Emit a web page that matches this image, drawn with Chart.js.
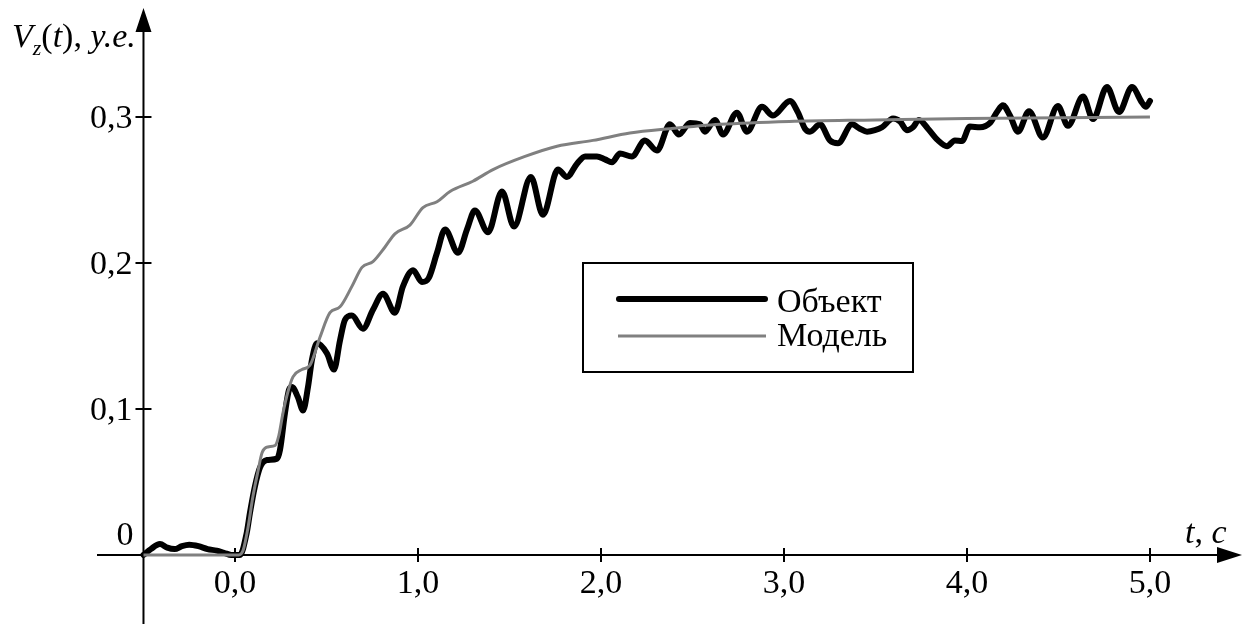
<!DOCTYPE html>
<html>
<head>
<meta charset="utf-8">
<script src="https://cdn.jsdelivr.net/npm/chart.js@4.4.0/dist/chart.umd.min.js"></script>
<style>
html, body { margin: 0; padding: 0; background: #fff; }
#wrap { width: 1244px; height: 625px; position: relative; }
</style>
</head>
<body>
<div id="wrap"><canvas id="chart"></canvas></div>
<script>
const objektT = [-0.5, -0.46, -0.41, -0.37, -0.33, -0.29, -0.25, -0.2, -0.15, -0.1, -0.06, -0.02, 0.027,
    0.064, 0.082, 0.109, 0.137, 0.175, 0.23, 0.246, 0.273, 0.295, 0.311, 0.344, 0.372, 0.399, 0.421, 0.448,
    0.503, 0.541, 0.574, 0.601, 0.639, 0.699, 0.754, 0.809, 0.874, 0.918, 0.973, 1.022, 1.06, 1.104, 1.148,
    1.219, 1.268, 1.311, 1.383, 1.459, 1.525, 1.617, 1.683, 1.765, 1.814, 1.869, 1.913, 1.978, 2.022, 2.06,
    2.104, 2.169, 2.24, 2.306, 2.377, 2.426, 2.486, 2.541, 2.568, 2.623, 2.667, 2.743, 2.798, 2.88, 2.94,
    3.033, 3.077, 3.115, 3.142, 3.197, 3.251, 3.295, 3.372, 3.415, 3.454, 3.497, 3.536, 3.596, 3.634, 3.672,
    3.705, 3.738, 3.787, 3.842, 3.891, 3.934, 3.973, 4.016, 4.071, 4.126, 4.164, 4.197, 4.235, 4.279, 4.339,
    4.415, 4.497, 4.552, 4.634, 4.689, 4.765, 4.831, 4.902, 4.956, 4.978, 5.0];
const objektV = [0.0, 0.004, 0.0075, 0.005, 0.004, 0.006, 0.007, 0.006, 0.004, 0.003, 0.0015, 0.0, 0.0,
    0.015, 0.029, 0.047, 0.06, 0.065, 0.066, 0.072, 0.097, 0.113, 0.115, 0.108, 0.099, 0.115, 0.134, 0.145,
    0.138, 0.127, 0.147, 0.161, 0.164, 0.155, 0.168, 0.179, 0.166, 0.184, 0.195, 0.187, 0.19, 0.207, 0.223,
    0.207, 0.223, 0.236, 0.221, 0.249, 0.225, 0.259, 0.233, 0.264, 0.259, 0.268, 0.273, 0.273, 0.271, 0.269,
    0.275, 0.273, 0.284, 0.277, 0.295, 0.288, 0.296, 0.295, 0.29, 0.298, 0.288, 0.303, 0.29, 0.307, 0.301,
    0.311, 0.303, 0.292, 0.29, 0.295, 0.284, 0.282, 0.295, 0.292, 0.29, 0.291, 0.293, 0.299, 0.297, 0.291,
    0.293, 0.298, 0.292, 0.284, 0.28, 0.284, 0.2836, 0.2935, 0.293, 0.296, 0.3035, 0.308, 0.301, 0.29, 0.304,
    0.286, 0.3075, 0.294, 0.314, 0.2986, 0.3205, 0.3034, 0.3205, 0.31, 0.307, 0.311];

// Модель (smooth model response)
const modelT = [-0.5, 0.02, 0.044, 0.07, 0.098, 0.125, 0.148, 0.18, 0.219, 0.24, 0.262, 0.29, 0.317, 0.366,
    0.41, 0.464, 0.519, 0.574, 0.639, 0.694, 0.754, 0.82, 0.874, 0.956, 1.027, 1.104, 1.175, 1.3, 1.41, 1.585,
    1.76, 1.956, 2.158, 2.377, 2.65, 3.03, 3.5, 4.0, 5.0];
const modelV = [0.0, 0.0, 0.003, 0.018, 0.04, 0.057, 0.07, 0.074, 0.075, 0.082, 0.097, 0.112, 0.122, 0.127,
    0.13, 0.149, 0.166, 0.17, 0.184, 0.197, 0.201, 0.211, 0.22, 0.226, 0.238, 0.242, 0.249, 0.256, 0.264, 0.273,
    0.28, 0.284, 0.289, 0.292, 0.295, 0.297, 0.298, 0.299, 0.3];

const xTicks = [0, 1, 2, 3, 4, 5];
const xTickLabels = ['0,0', '1,0', '2,0', '3,0', '4,0', '5,0'];
const yTicks = [0, 0.1, 0.2, 0.3];
const yTickLabels = ['0', '0,1', '0,2', '0,3'];
const seriesNames = ['Объект', 'Модель'];

// axis ranges (axes run past the data to the arrow heads)
const xMin = -0.754, xMax = 5.503, yMin = -0.0473, yMax = 0.3747;
const axisX = -0.5; // where the vertical axis stands

function toPoints(ts, vs) {
    let pts = [];
    for (let i = 0; i < ts.length; i++) pts.push({x: ts[i], y: vs[i]});
    return pts;
}

const serif = '"Liberation Serif", "Times New Roman", serif';

const axesPlugin = {
    id: 'axesPlugin',
    beforeDatasetsDraw(chart) {
        const ctx = chart.ctx;
        const xs = chart.scales.x, ys = chart.scales.y;
        const ax = xs.getPixelForValue(axisX);
        const ay = ys.getPixelForValue(0);
        const area = chart.chartArea;
        ctx.save();
        ctx.strokeStyle = '#000';
        ctx.fillStyle = '#000';
        ctx.lineWidth = 2;
        // x axis
        ctx.beginPath();
        ctx.moveTo(area.left, ay);
        ctx.lineTo(area.right - 20, ay);
        ctx.stroke();
        ctx.beginPath();
        ctx.moveTo(area.right, ay);
        ctx.lineTo(area.right - 25, ay - 8);
        ctx.lineTo(area.right - 25, ay + 8);
        ctx.closePath();
        ctx.fill();
        // y axis
        ctx.beginPath();
        ctx.moveTo(ax, area.bottom);
        ctx.lineTo(ax, area.top + 20);
        ctx.stroke();
        ctx.beginPath();
        ctx.moveTo(ax, area.top);
        ctx.lineTo(ax - 8, area.top + 24);
        ctx.lineTo(ax + 8, area.top + 24);
        ctx.closePath();
        ctx.fill();
        // tick marks
        xTicks.forEach(t => {
            const px = Math.round(xs.getPixelForValue(t));
            ctx.beginPath();
            ctx.moveTo(px, ay - 7);
            ctx.lineTo(px, ay + 7);
            ctx.stroke();
        });
        yTicks.forEach(v => {
            if (v === 0) return;
            const py = Math.round(ys.getPixelForValue(v));
            ctx.beginPath();
            ctx.moveTo(ax - 8, py);
            ctx.lineTo(ax + 8, py);
            ctx.stroke();
        });
        ctx.restore();
    },
    afterDraw(chart) {
        const ctx = chart.ctx;
        const xs = chart.scales.x, ys = chart.scales.y;
        const ax = xs.getPixelForValue(axisX);
        const ay = ys.getPixelForValue(0);
        ctx.save();
        ctx.fillStyle = '#000';
        ctx.font = '34px ' + serif;
        ctx.textBaseline = 'alphabetic';
        // tick labels
        ctx.textAlign = 'center';
        xTicks.forEach((t, i) => {
            ctx.fillText(xTickLabels[i], xs.getPixelForValue(t), ay + 38);
        });
        ctx.textAlign = 'right';
        yTicks.forEach((v, i) => {
            const py = ys.getPixelForValue(v);
            if (v === 0) ctx.fillText(yTickLabels[i], ax - 10, py - 10);
            else ctx.fillText(yTickLabels[i], ax - 11, py + 11);
        });
        // axis titles
        ctx.textAlign = 'left';
        let x = 12;
        const part = (txt, font, y) => {
            ctx.font = font;
            ctx.fillText(txt, x, y);
            x += ctx.measureText(txt).width;
        };
        const it = 'italic 34px ' + serif, up = '34px ' + serif;
        part('V', it, 47);
        part('z', 'italic 22px ' + serif, 55);
        part('(', up, 47);
        part('t', it, 47);
        part(')', up, 47);
        part(', ', up, 47);
        part('y.e.', it, 47);
        x = 1185;
        part('t', it, 543);
        part(', ', up, 543);
        part('c', it, 543);
        // legend
        ctx.strokeStyle = '#000';
        ctx.lineWidth = 2;
        ctx.fillStyle = '#fff';
        ctx.fillRect(583, 263, 330, 109);
        ctx.strokeRect(583, 263, 330, 109);
        ctx.lineCap = 'round';
        ctx.lineWidth = 6;
        ctx.beginPath();
        ctx.moveTo(619, 299);
        ctx.lineTo(765, 299);
        ctx.stroke();
        ctx.lineCap = 'butt';
        ctx.strokeStyle = '#808080';
        ctx.lineWidth = 3;
        ctx.beginPath();
        ctx.moveTo(618, 336);
        ctx.lineTo(766, 336);
        ctx.stroke();
        ctx.fillStyle = '#000';
        ctx.font = '34px ' + serif;
        ctx.fillText(seriesNames[0], 777, 312);
        ctx.fillText(seriesNames[1], 777, 346);
        ctx.restore();
    }
};

new Chart(document.getElementById('chart'), {
    type: 'line',
    data: {
        datasets: [
            {
                label: seriesNames[0],
                data: toPoints(objektT, objektV),
                borderColor: '#000',
                borderWidth: 6,
                pointRadius: 0,
                cubicInterpolationMode: 'monotone',
                borderCapStyle: 'round',
                borderJoinStyle: 'round',
                fill: false,
                order: 2
            },
            {
                label: seriesNames[1],
                data: toPoints(modelT, modelV),
                borderColor: '#808080',
                borderWidth: 3,
                pointRadius: 0,
                cubicInterpolationMode: 'monotone',
                fill: false,
                order: 1
            }
        ]
    },
    plugins: [axesPlugin],
    options: {
        responsive: true,
        maintainAspectRatio: false,
        animation: false,
        layout: { padding: { left: 97, right: 2, top: 8, bottom: 1 } },
        plugins: { legend: { display: false }, tooltip: { enabled: false } },
        scales: {
            x: { type: 'linear', min: xMin, max: xMax, display: false },
            y: { type: 'linear', min: yMin, max: yMax, display: false }
        }
    }
});
</script>
</body>
</html>
